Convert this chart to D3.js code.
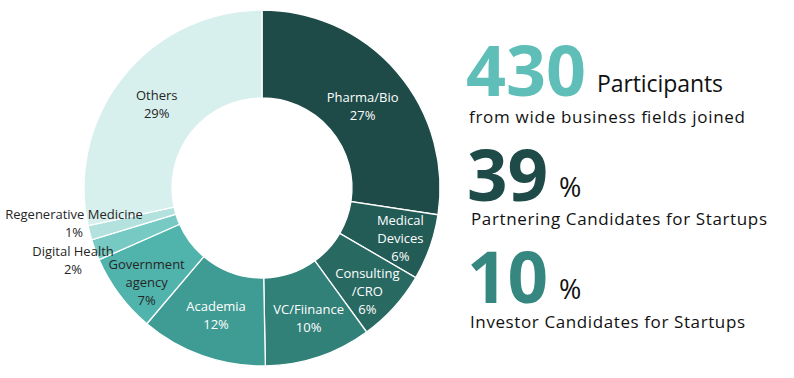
<!DOCTYPE html>
<html>
<head>
<meta charset="utf-8">
<script src="https://cdn.jsdelivr.net/npm/d3@7"></script>
<style>
  body { margin: 0; background: #fff; }
  svg { display: block; font-family: "Open Sans", "Noto Sans", sans-serif; }
</style>
</head>
<body>
<div id="chart"></div>
<script>
// Participant breakdown, clockwise from 12 o'clock
const categories = ["Pharma/Bio", "Medical Devices", "Consulting /CRO", "VC/Fiinance", "Academia",
                    "Government agency", "Digital Health", "Regenerative Medicine", "Others"];
// slice sizes (percent)
const shares = [27.4, 6.0, 6.6, 9.7, 11.5, 7.2, 1.9, 1.3, 28.4];
// percent labels as printed on the chart
const pctLabels = ["27%", "6%", "6%", "10%", "12%", "7%", "2%", "1%", "29%"];
const labelLines = [["Pharma/Bio"], ["Medical", "Devices"], ["Consulting", "/CRO"], ["VC/Fiinance"],
                    ["Academia"], ["Government", "agency"], ["Digital Health"], ["Regenerative Medicine"], ["Others"]];
const sliceColors = ["#1e4b48", "#235c57", "#286962", "#318179", "#3f9c94",
                     "#50b4ad", "#77c9c3", "#b3e2de", "#d7efed"];
const darkText = ["Government agency", "Digital Health", "Regenerative Medicine", "Others"];

// Headline figures on the right
const headline = { total: 430, partnering: 39, investor: 10 };

const w = 794, h = 378;
const cx = 262, cy = 188, rOuter = 178, rInner = 90;

const svg = d3.select("#chart").append("svg")
  .attr("width", w)
  .attr("height", h);

const data = categories.map((c, i) => ({
  name: c, value: shares[i], pct: pctLabels[i], lines: labelLines[i], color: sliceColors[i]
}));

const pie = d3.pie()
  .value(d => d.value)
  .sort(null);

const arc = d3.arc()
  .innerRadius(rInner)
  .outerRadius(rOuter);

const arcs = pie(data);

const g = svg.append("g")
  .attr("transform", `translate(${cx},${cy})`);

g.selectAll("path.slice")
  .data(arcs)
  .enter().append("path")
  .attr("class", "slice")
  .attr("d", arc)
  .style("fill", d => d.data.color)
  .style("stroke", "#fff")
  .style("stroke-width", 1.3);

// Label placement: inside at mid-ring, the two thin slices get labels outside on the left
const labelArc = d3.arc().innerRadius(134).outerRadius(134);
const nudge = {
  "Pharma/Bio": [-1, 6], "Medical Devices": [12, 6], "Consulting /CRO": [6, 14],
  "VC/Fiinance": [4, 4], "Academia": [-1, 2], "Government agency": [-8, 15],
  "Others": [-1, 1]
};
const outsidePos = { "Digital Health": [-189, 73], "Regenerative Medicine": [-188, 36] };

const lineH = 18;
g.selectAll("text.slice-label")
  .data(arcs)
  .enter().append("text")
  .attr("class", "slice-label")
  .attr("text-anchor", "middle")
  .style("font-size", "13px")
  .style("fill", d => darkText.includes(d.data.name) ? "#262626" : "#fff")
  .each(function (d) {
    let p;
    if (outsidePos[d.data.name]) {
      p = outsidePos[d.data.name];
    } else {
      const c = labelArc.centroid(d);
      const n = nudge[d.data.name];
      p = [c[0] + n[0], c[1] + n[1]];
    }
    const lines = d.data.lines.concat([d.data.pct]);
    const top = p[1] - (lines.length - 1) * lineH / 2 + 4;
    const t = d3.select(this);
    lines.forEach((l, i) => {
      t.append("tspan")
        .attr("x", p[0])
        .attr("y", top + i * lineH)
        .text(l);
    });
  });

// Right-hand headline block
const right = svg.append("g").attr("class", "headline");

right.append("text")
  .attr("x", 466).attr("y", 96)
  .style("font-size", "70px").style("font-weight", 700)
  .style("fill", "#5fbfb8")
  .text(headline.total);

right.append("text")
  .attr("x", 597).attr("y", 92)
  .style("font-size", "23px")
  .style("fill", "#111")
  .attr("textLength", 126)
  .text("Participants");

right.append("text")
  .attr("x", 469).attr("y", 123)
  .style("font-size", "17px")
  .style("fill", "#111")
  .attr("textLength", 276)
  .text("from wide business fields joined");

right.append("text")
  .attr("x", 467).attr("y", 201)
  .style("font-size", "71px").style("font-weight", 700)
  .style("fill", "#1e4b48")
  .text(headline.partnering);

right.append("text")
  .attr("x", 559).attr("y", 197)
  .style("font-size", "27px")
  .style("fill", "#111")
  .text("%");

right.append("text")
  .attr("x", 471).attr("y", 225)
  .style("font-size", "17px")
  .style("fill", "#111")
  .attr("textLength", 296)
  .text("Partnering Candidates for Startups");

right.append("text")
  .attr("x", 467).attr("y", 303)
  .style("font-size", "71px").style("font-weight", 700)
  .style("fill", "#35877f")
  .text(headline.investor);

right.append("text")
  .attr("x", 559).attr("y", 299)
  .style("font-size", "27px")
  .style("fill", "#111")
  .text("%");

right.append("text")
  .attr("x", 470).attr("y", 328)
  .style("font-size", "17px")
  .style("fill", "#111")
  .attr("textLength", 275)
  .text("Investor Candidates for Startups");
</script>
</body>
</html>
